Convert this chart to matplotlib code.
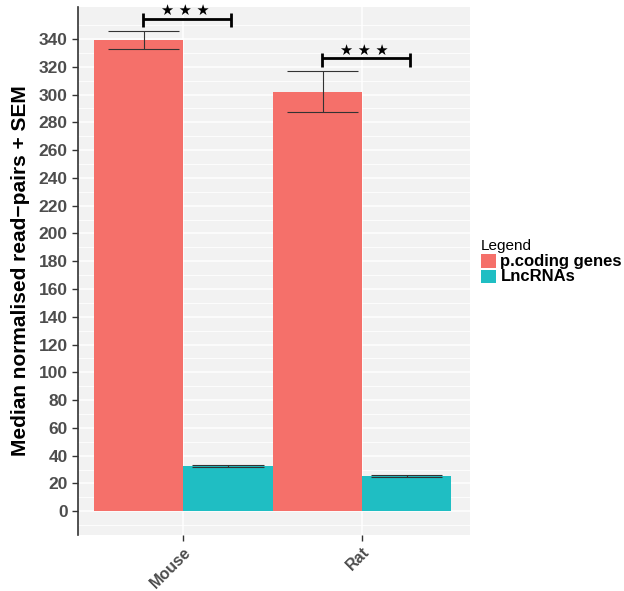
import matplotlib
matplotlib.use("Agg")
import matplotlib.pyplot as plt
import numpy as np
from matplotlib.patches import Patch

plt.rcParams["font.family"] = ["Liberation Sans", "DejaVu Sans"]

species = ["Mouse", "Rat"]
series = ["p.coding genes", "LncRNAs"]
pcoding = [339.5, 302.0]
pcoding_lo = [333.0, 287.5]
pcoding_hi = [346.0, 317.0]
lnc = [32.3, 25.4]
lnc_lo = [31.6, 24.8]
lnc_hi = [33.0, 26.0]
sig_y = [354.5, 326.0]
sig_label = ["\u2605 \u2605 \u2605", "\u2605 \u2605 \u2605"]
colors = ["#F5706A", "#1FBEC3"]

fig = plt.figure(figsize=(6.24, 5.91), dpi=100)
ax = fig.add_axes([0.125, 0.095, 0.628, 0.893])
ax.set_facecolor("#F2F2F2")

x = np.arange(1, len(species) + 1)
w = 0.5
ax.bar(x - w / 2, pcoding, width=w, color=colors[0], zorder=3)
ax.bar(x + w / 2, lnc, width=w, color=colors[1], zorder=3)

# error bars
for xi, lo, hi in zip(x - w / 2 + 0.03, pcoding_lo, pcoding_hi):
    ax.vlines(xi, lo, hi, color="#333333", lw=0.8, zorder=4)
    ax.hlines([lo, hi], xi - 0.2, xi + 0.2, color="#333333", lw=0.8, zorder=4)
for xi, lo, hi in zip(x + w / 2, lnc_lo, lnc_hi):
    ax.vlines(xi, lo, hi, color="#333333", lw=0.8, zorder=4)
    ax.hlines([lo, hi], xi - 0.2, xi + 0.2, color="#333333", lw=0.8, zorder=4)

# significance brackets
for xi, yv, lab in zip(x, sig_y, sig_label):
    x0, x1 = xi - 0.223, xi + 0.268
    ax.hlines(yv, x0, x1, color="black", lw=2, zorder=5)
    ax.vlines([x0, x1], yv - 6, yv + 4, color="black", lw=2, zorder=5)
    ax.text((x0 + x1) / 2 - 0.01, yv + 6, lab, ha="center", va="center",
            fontsize=10.5, color="black", family="DejaVu Sans", zorder=5)

ax.set_xlim(0.413, 2.603)
ax.set_ylim(-17, 363)
ax.set_yticks(np.arange(0, 341, 20))
ax.set_yticks(np.arange(-10, 361, 20), minor=True)
ax.set_xticks(x)
ax.set_xticklabels(species, rotation=45, ha="right", rotation_mode="anchor",
                   fontsize=11.5, fontweight="bold", color="#4D4D4D")
for lab in ax.get_yticklabels():
    lab.set_fontsize(12.5)
    lab.set_fontweight("bold")
    lab.set_color("#4D4D4D")

ax.grid(True, which="major", axis="both", color="white", lw=1.1, zorder=0)
ax.grid(True, which="minor", axis="y", color="white", lw=0.6, zorder=0)
ax.set_axisbelow(True)
ax.tick_params(axis="both", which="major", length=4, color="#333333", width=1)
ax.tick_params(axis="x", which="major", pad=3)
ax.tick_params(axis="y", which="minor", length=0)
for s in ["top", "right", "bottom"]:
    ax.spines[s].set_visible(False)
ax.spines["left"].set_color("#333333")
ax.spines["left"].set_linewidth(1.2)

ax.set_ylabel("Median normalised read\u2212pairs + SEM", fontsize=15,
              fontweight="bold", color="black", labelpad=6)

handles = [Patch(facecolor=c, edgecolor="none") for c in colors]
leg = fig.legend(handles, series, loc="upper left", bbox_to_anchor=(0.762, 0.605),
                 frameon=False, title="Legend", handlelength=1.1, handleheight=1.1,
                 handletextpad=0.3, labelspacing=0.05, borderaxespad=0)
leg._legend_box.align = "left"
leg.get_title().set_fontsize(11)
for t in leg.get_texts():
    t.set_fontsize(12)
    t.set_fontweight("bold")

fig.savefig("out.png", dpi=100)
